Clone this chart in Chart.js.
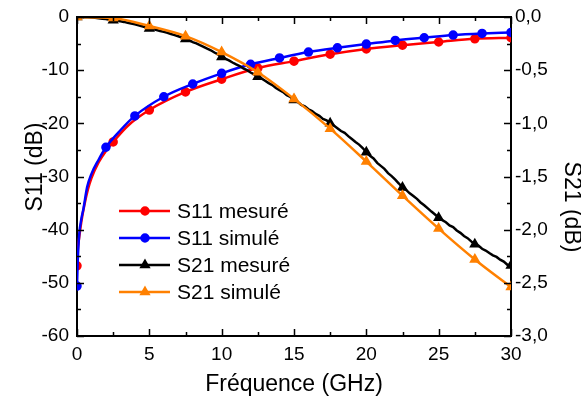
<!DOCTYPE html>
<html>
<head>
<meta charset="utf-8">
<script src="https://cdn.jsdelivr.net/npm/chart.js@4/dist/chart.umd.min.js"></script>
<style>
  body { margin: 0; background: #fff; }
</style>
</head>
<body>
<canvas id="sChart" width="581" height="403"></canvas>
<script>
// S11 (left axis, dB)
const s11MesFreq = [0, 0.05, 0.15, 0.3, 0.5, 0.75, 1, 1.5, 2, 2.5, 3.5, 5, 7.5, 10, 12.5, 15, 17.5, 20, 22.5, 25, 27.5, 30];
const s11MesVal  = [-46.8, -44, -41.5, -38.5, -35.5, -32.5, -30.3, -27.3, -25.2, -23.5, -20.5, -17.5, -14.1, -11.7, -9.6, -8.3, -7.0, -6.0, -5.3, -4.7, -4.1, -3.9];

const s11SimFreq = [0, 0.05, 0.15, 0.3, 0.45, 0.7, 1, 1.5, 2, 3, 4, 6, 8, 10, 12, 14, 16, 18, 20, 22, 24, 26, 28, 30];
const s11SimVal  = [-50.6, -46, -41, -38, -36, -32, -29.5, -26.8, -24.5, -21.3, -18.6, -15.0, -12.6, -10.6, -8.9, -7.7, -6.6, -5.8, -5.1, -4.4, -3.9, -3.4, -3.1, -2.9];

// S21 measured (right axis, dB), read every 0.25 GHz
const s21MesStep = 0.25;
const s21MesVal = [
  0.000, 0.000, -0.002, -0.003, -0.005, -0.008, -0.012, -0.016, -0.020, -0.026,
  -0.030, -0.036, -0.041, -0.046, -0.054, -0.061, -0.069, -0.078, -0.087, -0.098,
  -0.108, -0.114, -0.122, -0.131, -0.140, -0.148, -0.160, -0.170, -0.181, -0.193,
  -0.207, -0.218, -0.236, -0.248, -0.265, -0.280, -0.298, -0.313, -0.334, -0.352,
  -0.375, -0.391, -0.408, -0.428, -0.446, -0.461, -0.484, -0.500, -0.522, -0.540,
  -0.562, -0.578, -0.600, -0.622, -0.640, -0.668, -0.688, -0.706, -0.735, -0.752,
  -0.780, -0.798, -0.826, -0.840, -0.868, -0.884, -0.912, -0.930, -0.958, -0.972,
  -1.000, -1.020, -1.046, -1.072, -1.090, -1.120, -1.148, -1.175, -1.200, -1.232,
  -1.272, -1.305, -1.330, -1.372, -1.400, -1.428, -1.468, -1.496, -1.530, -1.566,
  -1.604, -1.626, -1.658, -1.684, -1.710, -1.744, -1.770, -1.800, -1.830, -1.858,
  -1.888, -1.910, -1.930, -1.960, -1.976, -2.008, -2.030, -2.060, -2.080, -2.110,
  -2.138, -2.150, -2.180, -2.196, -2.220, -2.242, -2.256, -2.282, -2.300, -2.330,
  -2.338
];

// S21 simulated
const s21SimFreq = [0, 2.5, 5, 7.5, 10, 12.5, 15, 17.5, 20, 22.5, 25, 27.5, 30];
const s21SimVal  = [0, -0.01, -0.085, -0.18, -0.33, -0.52, -0.77, -1.05, -1.36, -1.68, -1.99, -2.28, -2.54];

const seriesNames = ['S11 mesuré', 'S11 simulé', 'S21 mesuré', 'S21 simulé'];
const xTicks = [0, 5, 10, 15, 20, 25, 30];

const FONT = "'Liberation Sans', Arial, sans-serif";

function pts(xs, ys) { return xs.map((x, i) => ({ x: x, y: ys[i] })); }
const s21MesPts = s21MesVal.map((v, i) => ({ x: i * s21MesStep, y: v }));

function every(step) {
  return function (c) {
    const x = c.raw ? c.raw.x : 0;
    return Math.abs(x / step - Math.round(x / step)) < 1e-6 ? c.dataset.markerSize : 0;
  };
}

// inward tick marks + top frame
const tickMarks = {
  id: 'tickMarks',
  afterDraw(chart) {
    const { ctx, chartArea: a, scales } = chart;
    ctx.save();
    ctx.strokeStyle = '#000';
    ctx.lineWidth = 2;
    ctx.beginPath();
    ctx.moveTo(a.left - 1, a.top);
    ctx.lineTo(a.right + 1, a.top);
    ctx.stroke();
    ctx.lineWidth = 1.5;
    ctx.beginPath();
    for (let v = 0; v <= 30.001; v += 2.5) {
      const px = Math.round(scales.x.getPixelForValue(v)) + 0.5;
      const len = (Math.abs(v % 5) < 1e-6) ? 7 : 4;
      ctx.moveTo(px, a.bottom); ctx.lineTo(px, a.bottom - len);
      ctx.moveTo(px, a.top); ctx.lineTo(px, a.top + len);
    }
    for (let v = -60; v <= 0; v += 5) {
      const py = Math.round(scales.y.getPixelForValue(v)) + 0.5;
      const len = (v % 10 === 0) ? 7 : 4;
      ctx.moveTo(a.left, py); ctx.lineTo(a.left + len, py);
    }
    for (let k = 0; k <= 12; k++) {
      const py = Math.round(scales.y2.getPixelForValue(-k * 0.25)) + 0.5;
      const len = (k % 2 === 0) ? 7 : 4;
      ctx.moveTo(a.right, py); ctx.lineTo(a.right - len, py);
    }
    ctx.stroke();

    // axis titles
    ctx.fillStyle = '#000';
    ctx.font = '23px ' + FONT;
    ctx.textAlign = 'center';
    ctx.textBaseline = 'middle';
    ctx.fillText('Fréquence (GHz)', (a.left + a.right) / 2, 385);
    ctx.save();
    ctx.translate(36, 167);
    ctx.rotate(-Math.PI / 2);
    ctx.fillText('S11 (dB)', 0, 0);
    ctx.restore();
    ctx.save();
    ctx.translate(571, 207);
    ctx.rotate(Math.PI / 2);
    ctx.fillText('S21 (dB)', 0, 0);
    ctx.restore();
    ctx.restore();
  }
};

// legend inside the plot
const innerLegend = {
  id: 'innerLegend',
  afterDatasetsDraw(chart) {
    const ctx = chart.ctx;
    const rows = [211, 238, 265, 292];
    ctx.save();
    chart.data.datasets.forEach((ds, i) => {
      const y = rows[i];
      ctx.strokeStyle = ds.borderColor;
      ctx.lineWidth = 2.5;
      ctx.beginPath();
      ctx.moveTo(119, y);
      ctx.lineTo(170, y);
      ctx.stroke();
      ctx.fillStyle = ds.borderColor;
      Chart.helpers.drawPoint(ctx, {
        pointStyle: ds.pointStyle, radius: ds.markerSize, borderWidth: 1, rotation: 0
      }, 145, y);
      ctx.fillStyle = '#000';
      ctx.font = '21px ' + FONT;
      ctx.textAlign = 'left';
      ctx.textBaseline = 'middle';
      ctx.fillText(seriesNames[i], 177, y + 1);
    });
    ctx.restore();
  }
};

const ctx = document.getElementById('sChart').getContext('2d');
new Chart(ctx, {
  type: 'line',
  data: {
    datasets: [
      {
        label: seriesNames[0], data: pts(s11MesFreq, s11MesVal), yAxisID: 'y',
        borderColor: '#ff0000', backgroundColor: '#ff0000', borderWidth: 2.5,
        pointStyle: 'circle', markerSize: 3.5, pointRadius: every(2.5), cubicInterpolationMode: 'monotone', order: 4
      },
      {
        label: seriesNames[1], data: pts(s11SimFreq, s11SimVal), yAxisID: 'y',
        borderColor: '#0000ff', backgroundColor: '#0000ff', borderWidth: 2.5,
        pointStyle: 'circle', markerSize: 3.5, pointRadius: every(2), cubicInterpolationMode: 'monotone', order: 3
      },
      {
        label: seriesNames[2], data: s21MesPts, yAxisID: 'y2',
        borderColor: '#000000', backgroundColor: '#000000', borderWidth: 2.5,
        pointStyle: 'triangle', markerSize: 4, pointRadius: every(2.5), tension: 0, order: 2
      },
      {
        label: seriesNames[3], data: pts(s21SimFreq, s21SimVal), yAxisID: 'y2',
        borderColor: '#ff8000', backgroundColor: '#ff8000', borderWidth: 2.5,
        pointStyle: 'triangle', markerSize: 4, pointRadius: every(2.5), cubicInterpolationMode: 'monotone', order: 1
      }
    ]
  },
  options: {
    responsive: false,
    animation: false,
    layout: { padding: { top: 17, left: 0, right: 0, bottom: 0 } },
    plugins: { legend: { display: false }, tooltip: { enabled: false } },
    elements: { point: { borderWidth: 1, hoverRadius: 0 } },
    scales: {
      x: {
        type: 'linear', position: 'bottom', min: 0, max: 30,
        afterBuildTicks: s => { s.ticks = xTicks.map(v => ({ value: v })); },
        afterFit: s => { s.height = 67; },
        grid: { display: false },
        border: { display: true, color: '#000', width: 2 },
        ticks: { color: '#000', font: { family: FONT, size: 19 }, padding: -1, maxRotation: 0 }
      },
      y: {
        type: 'linear', position: 'left', min: -60, max: 0,
        afterFit: s => { s.width = 77; },
        grid: { display: false },
        border: { display: true, color: '#000', width: 2 },
        ticks: { stepSize: 10, color: '#000', font: { family: FONT, size: 19 }, padding: 0 }
      },
      y2: {
        type: 'linear', position: 'right', min: -3, max: 0,
        afterFit: s => { s.width = 70; },
        grid: { display: false },
        border: { display: true, color: '#000', width: 2 },
        ticks: {
          stepSize: 0.5, color: '#000', font: { family: FONT, size: 19 }, padding: -4,
          callback: v => (Math.abs(v) < 1e-9 ? 0 : v).toFixed(1).replace('.', ',')
        }
      }
    }
  },
  plugins: [tickMarks, innerLegend]
});
</script>
</body>
</html>
